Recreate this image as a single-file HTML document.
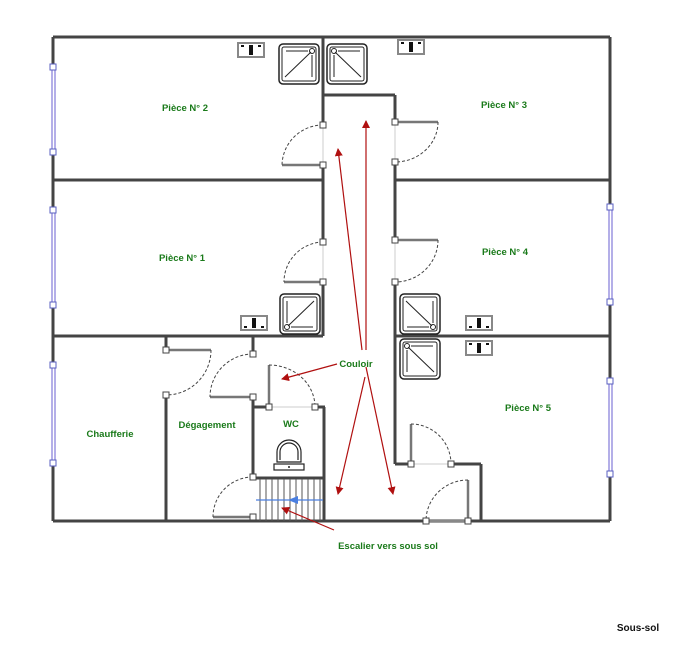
<!DOCTYPE html>
<html><head><meta charset="utf-8"><style>
html,body{margin:0;padding:0;background:#fff;}
svg{display:block;}
text{font-family:"Liberation Sans",sans-serif;font-weight:bold;}
</style></head><body>
<svg width="677" height="645" viewBox="0 0 677 645" xmlns="http://www.w3.org/2000/svg">
<defs>
<marker id="ar" markerWidth="8" markerHeight="8" refX="7" refY="4" orient="auto" markerUnits="userSpaceOnUse"><path d="M0,0 L8,4 L0,8 z" fill="#b01010"/></marker>
<g id="shower"><rect x="0" y="0" width="40" height="40" rx="4" fill="#fff" stroke="#222" stroke-width="1.5"/><rect x="3" y="3" width="34" height="34" rx="2" fill="none" stroke="#222" stroke-width="1"/><line x1="6" y1="33" x2="32" y2="8" stroke="#222"/><line x1="7" y1="7" x2="29" y2="7" stroke="#222"/><line x1="33" y1="11" x2="33" y2="33" stroke="#222"/><circle cx="33" cy="7" r="2.5" fill="none" stroke="#222"/></g>
<g id="sink"><rect x="0" y="0" width="26" height="14" fill="#fff" stroke="#888" stroke-width="2"/><rect x="11" y="2" width="4" height="10" fill="#111"/><rect x="3" y="2" width="3" height="2" fill="#111"/><rect x="20" y="2" width="3" height="2" fill="#111"/></g>
</defs>
<g stroke="#444" stroke-width="3" fill="none">
<polyline points="53,37 610,37"/>
<line x1="53" y1="37" x2="53" y2="67"/><line x1="53" y1="152" x2="53" y2="210"/><line x1="53" y1="305" x2="53" y2="365"/><line x1="53" y1="463" x2="53" y2="521"/>
<line x1="610" y1="37" x2="610" y2="207"/><line x1="610" y1="302" x2="610" y2="381"/><line x1="610" y1="474" x2="610" y2="521"/>
<line x1="53" y1="521" x2="610" y2="521"/>
<line x1="53" y1="180" x2="323" y2="180"/><line x1="395" y1="180" x2="610" y2="180"/>
<line x1="53" y1="336" x2="323" y2="336"/><line x1="395" y1="336" x2="610" y2="336"/>
<line x1="323" y1="37" x2="323" y2="125"/><line x1="323" y1="165" x2="323" y2="242"/><line x1="323" y1="282" x2="323" y2="336"/>
<line x1="323" y1="95" x2="395" y2="95"/>
<line x1="395" y1="95" x2="395" y2="122"/><line x1="395" y1="162" x2="395" y2="240"/><line x1="395" y1="282" x2="395" y2="464"/>
<line x1="395" y1="464" x2="411" y2="464"/><line x1="451" y1="464" x2="481" y2="464"/><line x1="481" y1="464" x2="481" y2="521"/>
<line x1="166" y1="336" x2="166" y2="350"/><line x1="166" y1="395" x2="166" y2="521"/>
<line x1="253" y1="336" x2="253" y2="354"/><line x1="253" y1="397" x2="253" y2="478"/>
<line x1="253" y1="407" x2="269" y2="407"/><line x1="315" y1="407" x2="325" y2="407"/><line x1="324" y1="407" x2="324" y2="521"/>
<line x1="255" y1="478" x2="325" y2="478"/>
</g>
<g stroke="#555" stroke-width="1">
<line x1="260" y1="479" x2="260" y2="521"/><line x1="266" y1="479" x2="266" y2="521"/><line x1="272" y1="479" x2="272" y2="521"/><line x1="278" y1="479" x2="278" y2="521"/><line x1="284" y1="479" x2="284" y2="521"/><line x1="290" y1="479" x2="290" y2="521"/><line x1="296" y1="479" x2="296" y2="521"/><line x1="302" y1="479" x2="302" y2="521"/><line x1="308" y1="479" x2="308" y2="521"/><line x1="314" y1="479" x2="314" y2="521"/><line x1="320" y1="479" x2="320" y2="521"/>
</g>
<line x1="323" y1="500" x2="256" y2="500" stroke="#4a7fe0" stroke-width="1.2"/>
<path d="M288,500 L298,496 L298,504 z" fill="#4a7fe0"/>
<g stroke="#6a5fd0" stroke-width="1">
<line x1="52" y1="67" x2="52" y2="152"/><line x1="55" y1="67" x2="55" y2="152"/>
<line x1="52" y1="210" x2="52" y2="305"/><line x1="55" y1="210" x2="55" y2="305"/>
<line x1="52" y1="365" x2="52" y2="463"/><line x1="55" y1="365" x2="55" y2="463"/>
<line x1="609" y1="207" x2="609" y2="302"/><line x1="612" y1="207" x2="612" y2="302"/>
<line x1="609" y1="381" x2="609" y2="474"/><line x1="612" y1="381" x2="612" y2="474"/>
</g>
<g fill="#fff" stroke="#5a5fc0" stroke-width="1">
<rect x="50" y="64" width="6" height="6"/><rect x="50" y="149" width="6" height="6"/>
<rect x="50" y="207" width="6" height="6"/><rect x="50" y="302" width="6" height="6"/>
<rect x="50" y="362" width="6" height="6"/><rect x="50" y="460" width="6" height="6"/>
<rect x="607" y="204" width="6" height="6"/><rect x="607" y="299" width="6" height="6"/>
<rect x="607" y="378" width="6" height="6"/><rect x="607" y="471" width="6" height="6"/>
</g>
<g stroke="#777" stroke-width="2.5">
<line x1="323" y1="165" x2="282" y2="165"/>
<line x1="323" y1="282" x2="284" y2="282"/>
<line x1="395" y1="122" x2="438" y2="122"/>
<line x1="395" y1="240" x2="438" y2="240"/>
<line x1="166" y1="350" x2="211" y2="350"/>
<line x1="253" y1="397" x2="210" y2="397"/>
<line x1="269" y1="407" x2="269" y2="365"/>
<line x1="253" y1="517" x2="213" y2="517"/>
<line x1="411" y1="464" x2="411" y2="424"/>
<line x1="468" y1="521" x2="468" y2="480"/>
</g>
<g stroke="#444" stroke-width="1" stroke-dasharray="3,2" fill="none">
<path d="M323,125 A41,41 0 0 0 282,165"/>
<path d="M323,242 A40,40 0 0 0 284,282"/>
<path d="M438,122 A43,40 0 0 1 395,162"/>
<path d="M438,240 A43,42 0 0 1 395,282"/>
<path d="M211,350 A45,45 0 0 1 166,395"/>
<path d="M253,354 A43,43 0 0 0 210,397"/>
<path d="M269,365 A46,42 0 0 1 315,407"/>
<path d="M253,477 A40,40 0 0 0 213,517"/>
<path d="M411,424 A40,40 0 0 1 451,464"/>
<path d="M468,480 A42,41 0 0 0 426,521"/>
</g>
<g stroke="#ccc" stroke-width="1">
<line x1="323" y1="125" x2="323" y2="165"/><line x1="323" y1="242" x2="323" y2="282"/>
<line x1="395" y1="122" x2="395" y2="162"/><line x1="395" y1="240" x2="395" y2="282"/>
<line x1="269" y1="407" x2="315" y2="407"/><line x1="411" y1="464" x2="451" y2="464"/>
<line x1="426" y1="521" x2="468" y2="521"/>
</g>
<g fill="#fff" stroke="#444" stroke-width="1">
<rect x="320" y="122" width="6" height="6"/><rect x="320" y="162" width="6" height="6"/>
<rect x="320" y="239" width="6" height="6"/><rect x="320" y="279" width="6" height="6"/>
<rect x="392" y="119" width="6" height="6"/><rect x="392" y="159" width="6" height="6"/>
<rect x="392" y="237" width="6" height="6"/><rect x="392" y="279" width="6" height="6"/>
<rect x="163" y="347" width="6" height="6"/><rect x="163" y="392" width="6" height="6"/>
<rect x="250" y="351" width="6" height="6"/><rect x="250" y="394" width="6" height="6"/>
<rect x="266" y="404" width="6" height="6"/><rect x="312" y="404" width="6" height="6"/>
<rect x="250" y="474" width="6" height="6"/><rect x="250" y="514" width="6" height="6"/>
<rect x="408" y="461" width="6" height="6"/><rect x="448" y="461" width="6" height="6"/>
<rect x="423" y="518" width="6" height="6"/><rect x="465" y="518" width="6" height="6"/>
</g>
<use href="#shower" x="279" y="44"/>
<g transform="translate(367,44) scale(-1,1)"><use href="#shower" x="0" y="0"/></g>
<use href="#sink" x="238" y="43"/>
<use href="#sink" x="398" y="40"/>
<g transform="translate(320,334) rotate(180)"><use href="#shower" x="0" y="0"/></g>
<g transform="translate(400,334) scale(1,-1)"><use href="#shower" x="0" y="0"/></g>
<g transform="translate(440,339) scale(-1,1)"><use href="#shower" x="0" y="0"/></g>
<g transform="translate(267,330) scale(-1,-1)"><use href="#sink" x="0" y="0"/></g>
<g transform="translate(492,330) scale(-1,-1)"><use href="#sink" x="0" y="0"/></g>
<use href="#sink" x="466" y="341"/>
<g stroke="#222" stroke-width="1.2" fill="#fff">
<path d="M277,462 L277,452 A12,12 0 0 1 301,452 L301,462 z"/>
<path d="M280,460 L280,452 A9,9 0 0 1 298,452 L298,460"/>
<rect x="274" y="464" width="30" height="6"/>
</g>
<circle cx="289" cy="467" r="1" fill="#222"/>
<g stroke="#b01010" stroke-width="1.2" marker-end="url(#ar)">
<line x1="366" y1="350" x2="366" y2="121"/>
<line x1="362" y1="350" x2="338" y2="149"/>
<line x1="337" y1="364" x2="282" y2="379"/>
<line x1="365" y1="377" x2="338" y2="494"/>
<line x1="366" y1="367" x2="393" y2="494"/>
<line x1="334" y1="530" x2="282" y2="508"/>
</g>
<g fill="#1a7a1a" font-size="9.5">
<text x="185" y="111" text-anchor="middle">Pièce N° 2</text>
<text x="504" y="108" text-anchor="middle">Pièce N° 3</text>
<text x="182" y="261" text-anchor="middle">Pièce N° 1</text>
<text x="505" y="255" text-anchor="middle">Pièce N° 4</text>
<text x="528" y="411" text-anchor="middle">Pièce N° 5</text>
<text x="110" y="437" text-anchor="middle">Chaufferie</text>
<text x="207" y="428" text-anchor="middle">Dégagement</text>
<text x="291" y="427" text-anchor="middle">WC</text>
<text x="356" y="367" text-anchor="middle">Couloir</text>
<text x="388" y="549" text-anchor="middle">Escalier vers sous sol</text>
</g>
<text x="638" y="631" text-anchor="middle" font-size="10" fill="#111">Sous-sol</text>
</svg>
</body></html>
